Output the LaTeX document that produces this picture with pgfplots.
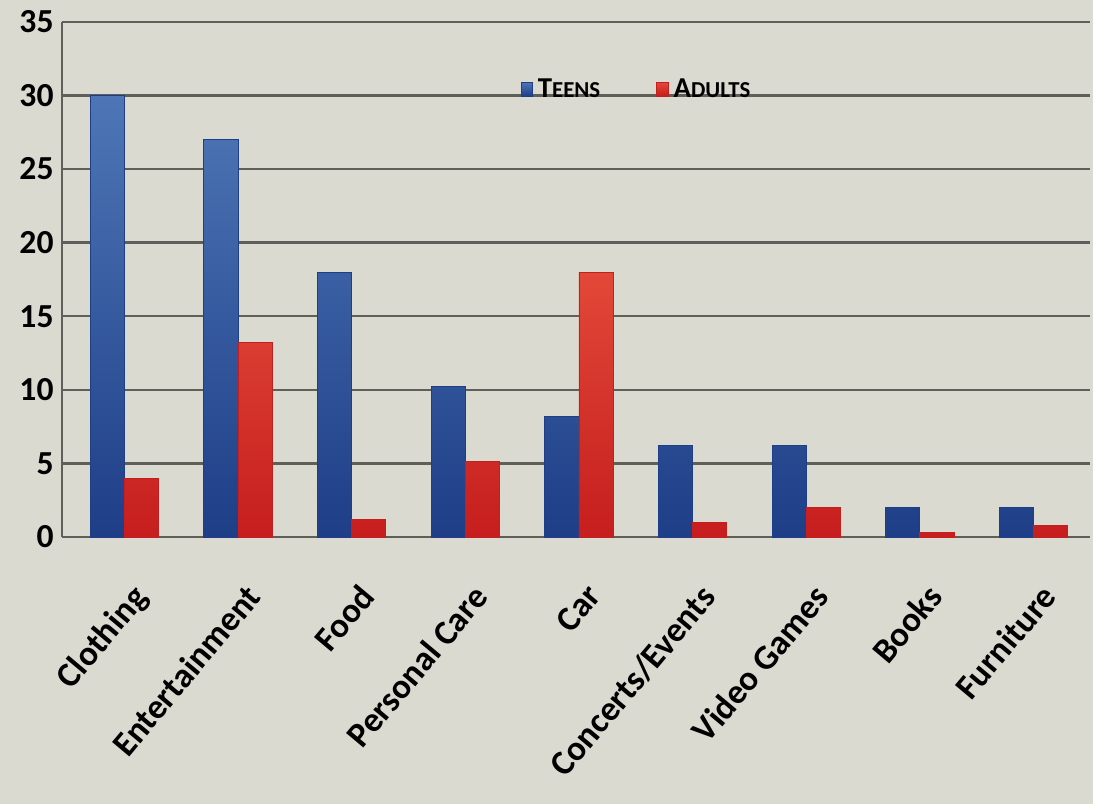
\documentclass[border=0pt]{standalone}
\usepackage{pgfplots}
\pgfplotsset{compat=1.18}
\usepackage{fontspec}
\setmainfont{Carlito}
\usetikzlibrary{backgrounds}
\definecolor{paper}{RGB}{218,218,208}
\definecolor{teensT}{RGB}{78,118,182}
\definecolor{teensB}{RGB}{30,62,135}
\definecolor{adultsT}{RGB}{226,72,56}
\definecolor{adultsB}{RGB}{198,30,30}
\definecolor{gridc}{RGB}{95,95,90}
\newcommand{\fsc}[2]{#1{\fontsize{9.5}{11}\selectfont #2}}
\pgfplotstableread{
x teens adults
0 30 4
1 27 13.2
2 18 1.2
3 10.2 5.1
4 8.2 18
5 6.2 1
6 6.2 2
7 2 0.3
8 2 0.8
}\data
\begin{document}
\begin{tikzpicture}[show background rectangle, background rectangle/.style={fill=paper, draw=none}, inner frame sep=0pt]
\useasboundingbox (-0.908,-3.91) rectangle (15.09,7.86);
\begin{axis}[
  scale only axis,
  width=15.05cm, height=7.54cm,
  ybar=0pt, bar width=0.5cm,
  xmin=-0.55, xmax=8.5,
  ymin=0, ymax=35,
  ytick={0,5,...,35},
  xtick=data,
  xticklabels={Clothing,Entertainment,Food,Personal Care,Car,Concerts/Events,Video Games,Books,Furniture},
  x tick label style={xshift=2pt, yshift=-14pt, rotate=50, anchor=north east, font=\bfseries\fontsize{14.5}{16}\selectfont},
  y tick label style={font=\bfseries\fontsize{14}{16}\selectfont},
  /pgf/number format/assume math mode=true,
  ymajorgrids, grid style={gridc, line width=1pt},
  major tick length=0pt,
  axis line style={gridc, line width=1pt},
  axis x line*=bottom, axis y line*=left,
  separate axis lines,
  legend style={at={(0.56,0.868)}, anchor=center, draw=none, fill=none, legend columns=2, font=\bfseries\fontsize{12}{14}\selectfont, /tikz/every even column/.append style={column sep=0.75cm}},
  legend image code/.code={\fill[#1] (0cm,-0.09cm) rectangle (0.17cm,0.11cm);},
]
\addplot[top color=teensT, bottom color=teensB, draw=teensB] table[x=x,y=teens]{\data};
\addplot[top color=adultsT, bottom color=adultsB, draw=adultsB] table[x=x,y=adults]{\data};
\legend{\fsc{T}{EENS},\fsc{A}{DULTS}}
\end{axis}
\draw[gridc, line width=1pt] (0,7.54) -- (15.05,7.54);
\end{tikzpicture}
\end{document}
